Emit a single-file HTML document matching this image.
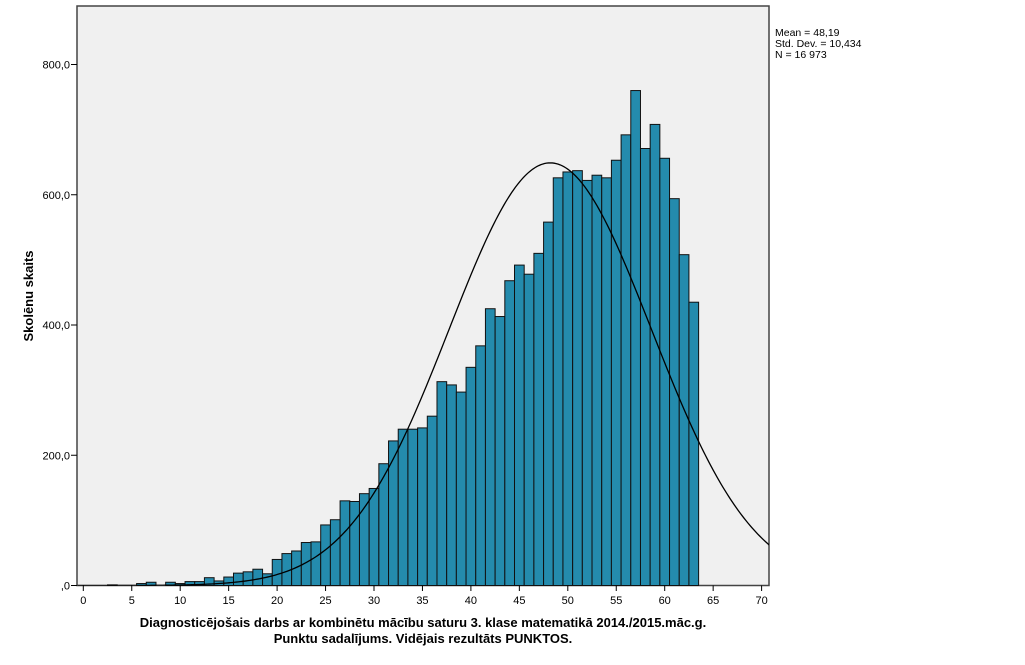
<!DOCTYPE html>
<html><head><meta charset="utf-8"><style>
body{margin:0;background:#fff;width:1025px;height:660px;overflow:hidden;font-family:"Liberation Sans",Arial,sans-serif}
svg text{font-family:"Liberation Sans",Arial,sans-serif}
</style></head><body>
<svg id="chart" width="1025" height="660" xmlns="http://www.w3.org/2000/svg">
<defs><clipPath id="pc"><rect x="77" y="6" width="692" height="579.5"/></clipPath></defs>
<rect x="77" y="6" width="692" height="579.5" fill="#f0f0f0" stroke="#444" stroke-width="1.5"/>
<g id="bars"></g>
<path id="curve" fill="none" stroke="#000" stroke-width="1.3" clip-path="url(#pc)"/>
<g id="axes"></g>
<text transform="translate(33,296) rotate(-90)" text-anchor="middle" font-size="13" font-weight="bold">Skolēnu skaits</text>
<text x="423" y="627" text-anchor="middle" font-size="13" font-weight="bold">Diagnosticējošais darbs ar kombinētu mācību saturu 3. klase matematikā 2014./2015.māc.g.</text>
<text x="423" y="643" text-anchor="middle" font-size="13" font-weight="bold">Punktu sadalījums. Vidējais rezultāts PUNKTOS.</text>
<g font-size="10.5">
<text x="775" y="36">Mean = 48,19</text>
<text x="775" y="47">Std. Dev. = 10,434</text>
<text x="775" y="58">N = 16 973</text>
</g>
</svg>
<script>
const scores=[3,6,7,9,10,11,12,13,14,15,16,17,18,19,20,21,22,23,24,25,26,27,28,29,30,31,32,33,34,35,36,37,38,39,40,41,42,43,44,45,46,47,48,49,50,51,52,53,54,55,56,57,58,59,60,61,62,63];
const counts=[1,3,5,5,3,6,6,12,7,13,19,21,25,18,40,49,53,66,67,93,101,130,129,141,149,187,222,240,240,242,260,313,308,297,335,368,425,413,468,492,478,510,558,626,635,637,622,630,626,653,692,760,671,708,656,594,508,435];
const xTicks=[0,5,10,15,20,25,30,35,40,45,50,55,60,65,70];
const yTicks=[0,200,400,600,800];
const yTickLabels=[",0","200,0","400,0","600,0","800,0"];
const mean=48.19, sd=10.434, N=16973;
const X=v=>83.3+v*9.69, Y=v=>585.5-v*0.65125;
const ns="http://www.w3.org/2000/svg";
const bars=document.getElementById('bars');
scores.forEach((s,i)=>{
 const r=document.createElementNS(ns,'rect');
 
 
 const x0=X(s-0.5),x1=X(s+0.5);
 r.setAttribute('x',x0);r.setAttribute('width',x1-x0);
 r.setAttribute('y',Y(counts[i]));r.setAttribute('height',Y(0)-Y(counts[i]));
 r.setAttribute('fill','#248bad');r.setAttribute('stroke','#111');r.setAttribute('stroke-width','1');
 bars.appendChild(r);
});
let d='';
for(let v=-0.6;v<=71.2;v+=0.2){
 const y=N/(sd*Math.sqrt(2*Math.PI))*Math.exp(-0.5*((v-mean)/sd)**2);
 d+=(d?'L':'M')+X(v).toFixed(2)+','+Y(y).toFixed(2);
}
document.getElementById('curve').setAttribute('d',d);
const ax=document.getElementById('axes');
xTicks.forEach(t=>{
 const l=document.createElementNS(ns,'line');
 
 
 l.setAttribute('x1',X(t));l.setAttribute('x2',X(t));l.setAttribute('y1',585.5);l.setAttribute('y2',591);l.setAttribute('stroke','#000');
 ax.appendChild(l);
 const tx=document.createElementNS(ns,'text');
 
 
 tx.setAttribute('x',X(t));tx.setAttribute('y',604);tx.setAttribute('text-anchor','middle');tx.setAttribute('font-size','11');
 tx.textContent=t;ax.appendChild(tx);
});
yTicks.forEach((t,i)=>{
 const l=document.createElementNS(ns,'line');
 
 
 l.setAttribute('x1',71);l.setAttribute('x2',77);l.setAttribute('y1',Y(t));l.setAttribute('y2',Y(t));l.setAttribute('stroke','#000');
 ax.appendChild(l);
 const tx=document.createElementNS(ns,'text');
 
 
 tx.setAttribute('x',70);tx.setAttribute('y',Y(t)+4);tx.setAttribute('text-anchor','end');tx.setAttribute('font-size','11');
 tx.textContent=yTickLabels[i];ax.appendChild(tx);
});
</script>
</body></html>
